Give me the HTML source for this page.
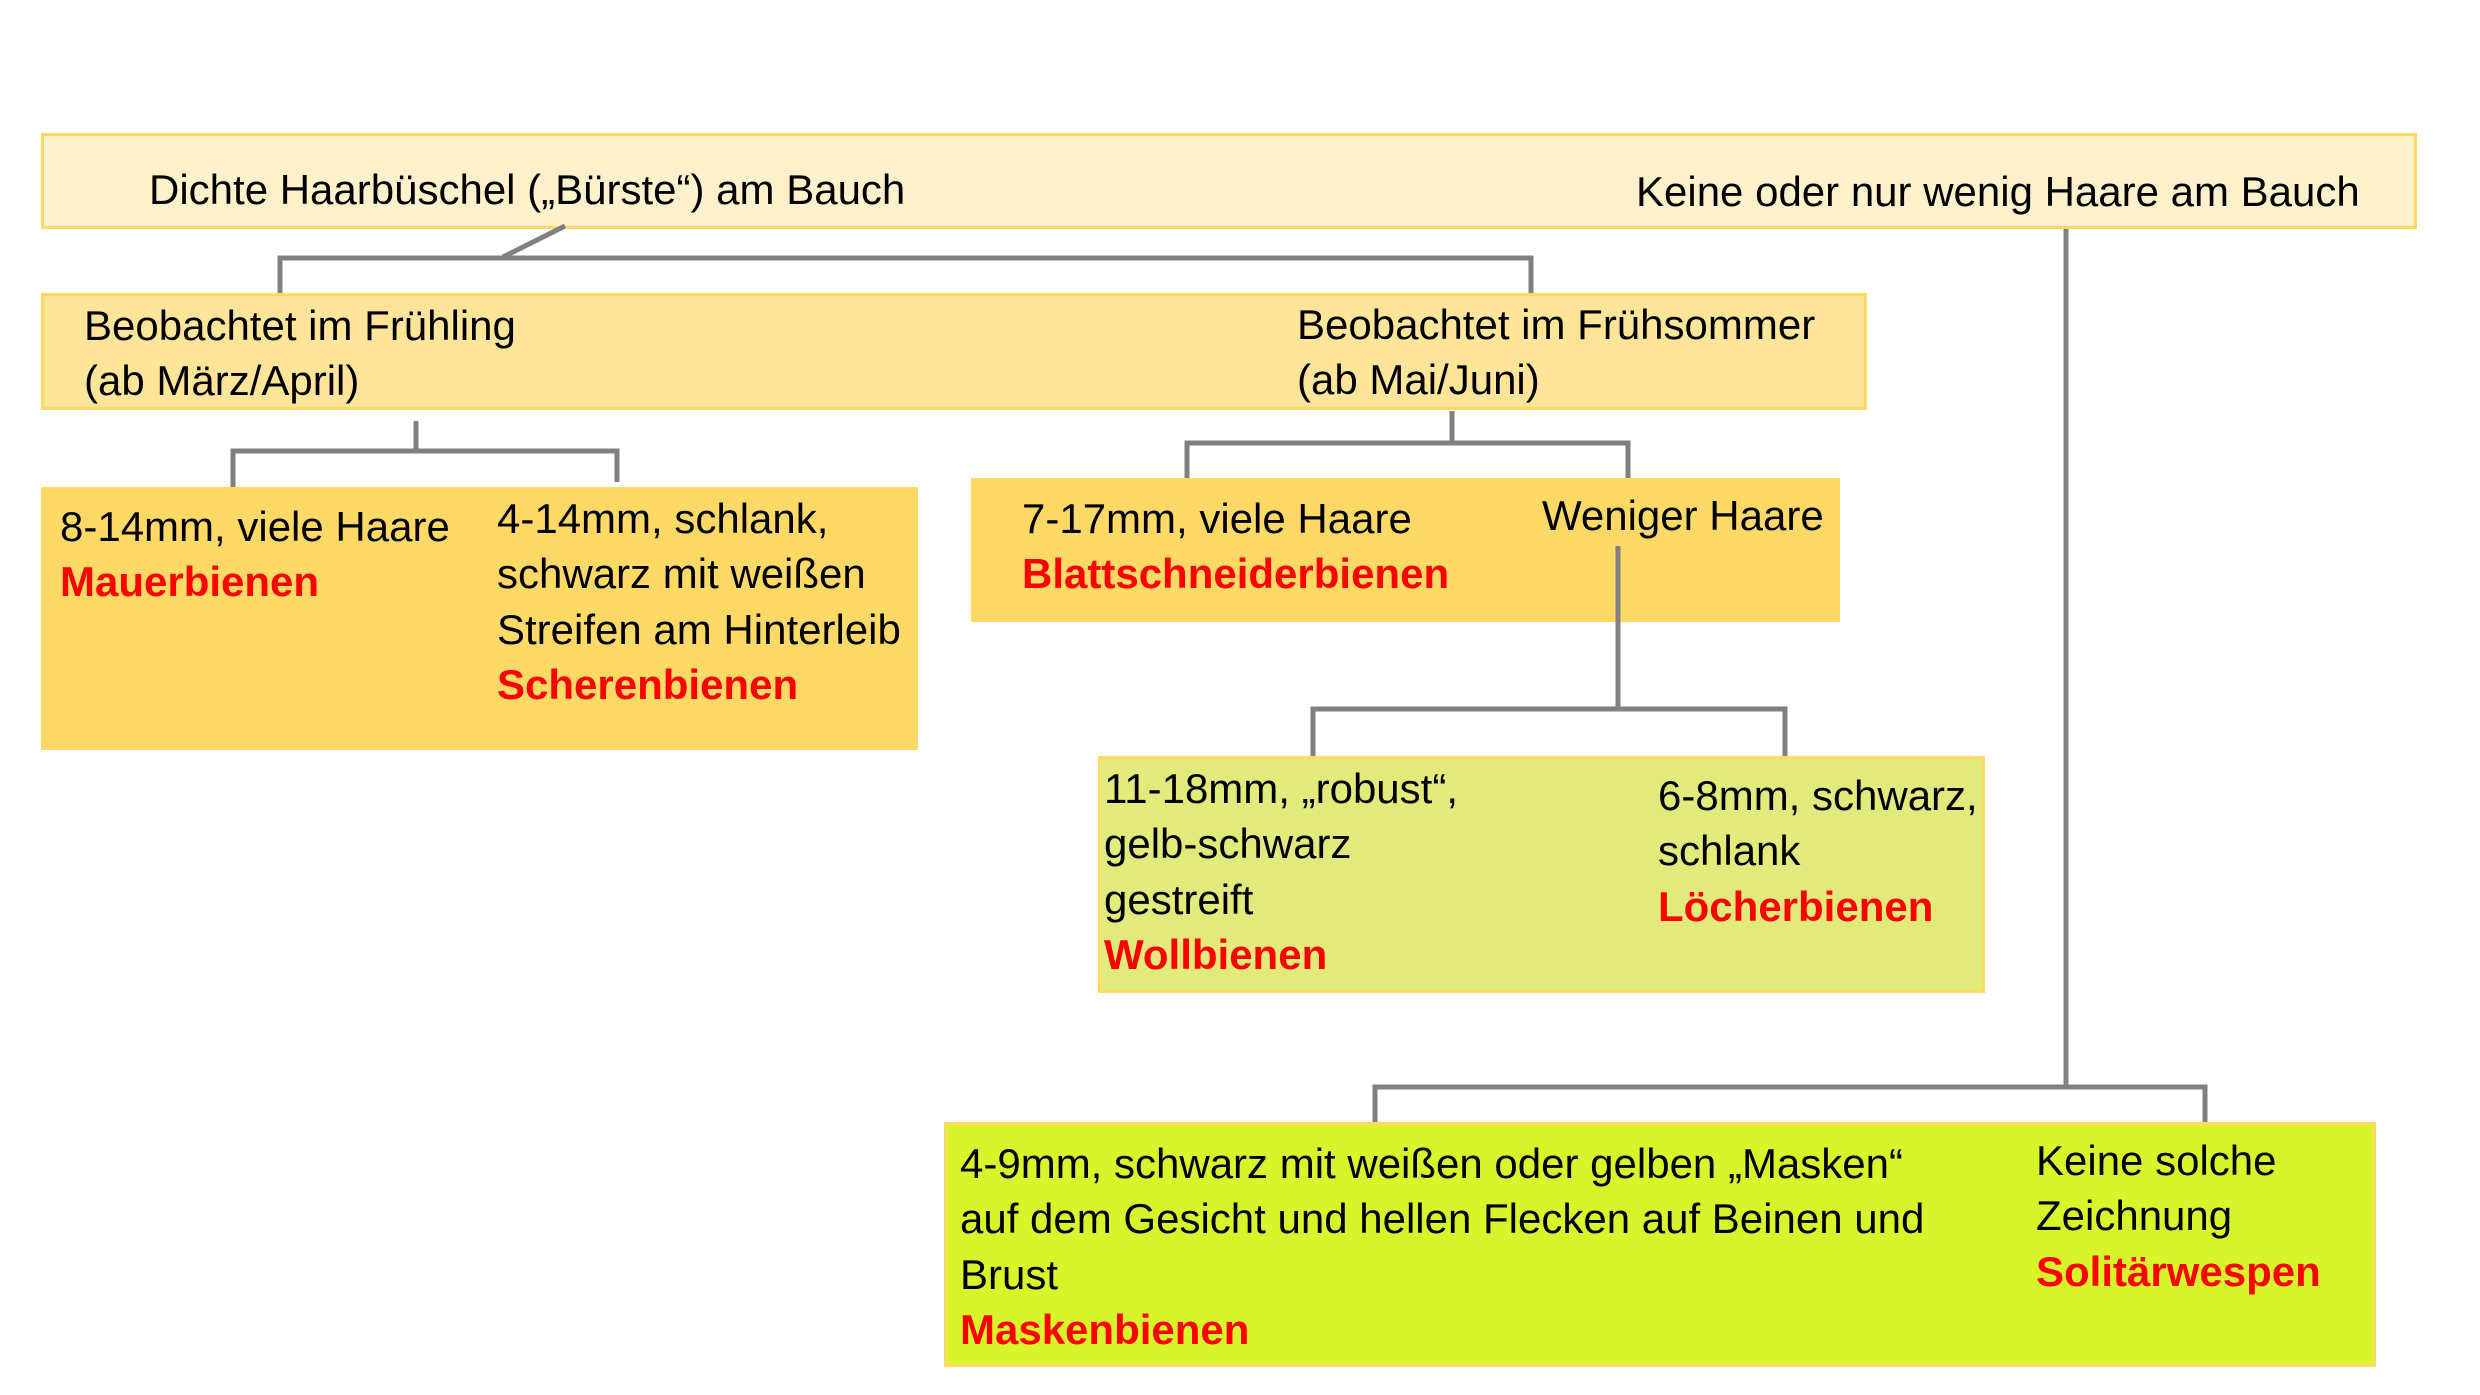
<!DOCTYPE html>
<html><head><meta charset="utf-8"><style>
body{margin:0;width:2480px;height:1395px;background:#fff;position:relative;overflow:hidden;font-family:"Liberation Sans",sans-serif;}
.b{position:absolute;box-sizing:border-box;border:3px solid #ffd966;}
.t{position:absolute;font-size:42px;line-height:55.4px;color:#000;white-space:nowrap;}
.r{color:#ff0000;font-weight:bold;}
svg{position:absolute;left:0;top:0;}
</style></head><body>
<div class="b" style="left:41px;top:133px;width:2376px;height:96px;background:#fff1cc;"></div>
<div class="b" style="left:41px;top:293px;width:1826px;height:117px;background:#fee599;"></div>
<div class="b" style="left:41px;top:487px;width:877px;height:263px;background:#ffd966;"></div>
<div class="b" style="left:971px;top:478px;width:869px;height:144px;background:#ffd966;"></div>
<div class="b" style="left:1098px;top:756px;width:887px;height:237px;background:#e2ea7b;"></div>
<div class="b" style="left:944px;top:1122px;width:1432px;height:245px;background:#d7f52a;"></div>
<svg width="2480" height="1395">
<g stroke="#808080" stroke-width="5" fill="none">
<path d="M565 226 L503 257"/>
<path d="M280 293 V258 H1531 V293"/>
<path d="M416 421 V451"/>
<path d="M233 487 V451 H617 V482"/>
<path d="M1452 411 V443"/>
<path d="M1187 478 V443 H1628 V478"/>
<path d="M1618 546 V709"/>
<path d="M1313 756 V709 H1785 V756"/>
<path d="M2066 229 V1087"/>
<path d="M1375 1122 V1087 H2205 V1122"/>
</g></svg>
<div class="t" style="left:149px;top:162px;">Dichte Haarbüschel („Bürste“) am Bauch</div>
<div class="t" style="left:1636px;top:164px;">Keine oder nur wenig Haare am Bauch</div>
<div class="t" style="left:84px;top:298px;">Beobachtet im Frühling<br>(ab März/April)</div>
<div class="t" style="left:1297px;top:297px;">Beobachtet im Frühsommer<br>(ab Mai/Juni)</div>
<div class="t" style="left:60px;top:499px;">8-14mm, viele Haare<br><span class="r">Mauerbienen</span></div>
<div class="t" style="left:497px;top:491px;">4-14mm, schlank,<br>schwarz mit weißen<br>Streifen am Hinterleib<br><span class="r">Scherenbienen</span></div>
<div class="t" style="left:1022px;top:491px;">7-17mm, viele Haare<br><span class="r">Blattschneiderbienen</span></div>
<div class="t" style="left:1542px;top:488px;">Weniger Haare</div>
<div class="t" style="left:1104px;top:761px;">11-18mm, „robust“,<br>gelb-schwarz<br>gestreift<br><span class="r">Wollbienen</span></div>
<div class="t" style="left:1658px;top:768px;">6-8mm, schwarz,<br>schlank<br><span class="r">Löcherbienen</span></div>
<div class="t" style="left:960px;top:1136px;">4-9mm, schwarz mit weißen oder gelben „Masken“<br>auf dem Gesicht und hellen Flecken auf Beinen und<br>Brust<br><span class="r">Maskenbienen</span></div>
<div class="t" style="left:2036px;top:1133px;">Keine solche<br>Zeichnung<br><span class="r">Solitärwespen</span></div>
</body></html>
